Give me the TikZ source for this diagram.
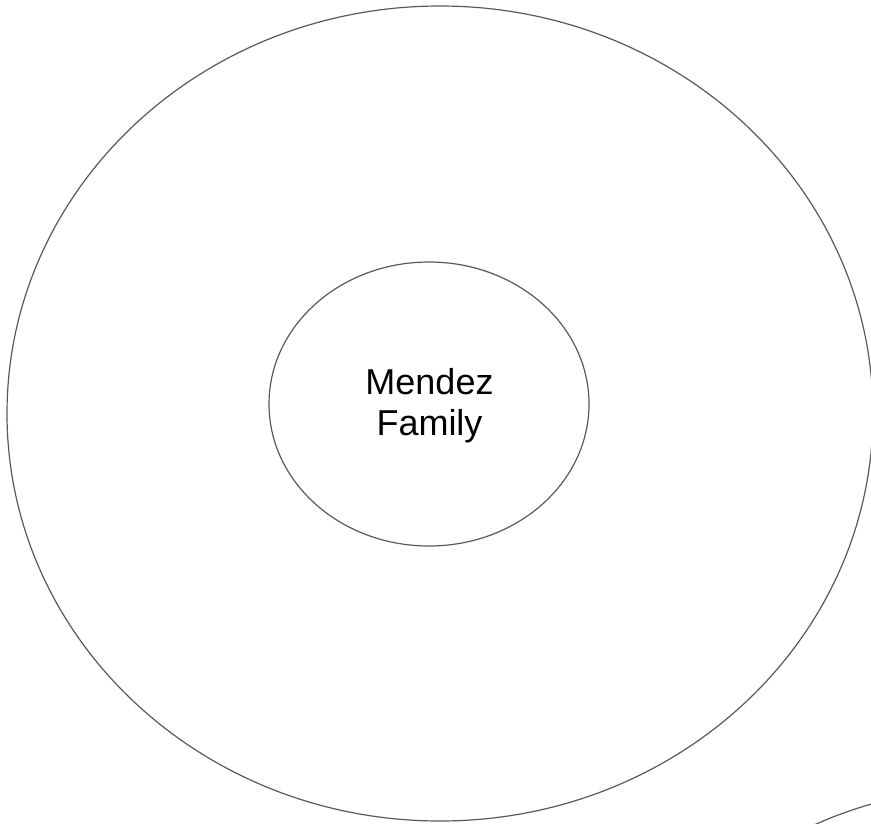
\documentclass[tikz,border=0pt]{standalone}
\usepackage{fontspec}
\setmainfont{Liberation Sans}
\usetikzlibrary{shapes.geometric}
\definecolor{linegray}{HTML}{595959}
\begin{document}
\begin{tikzpicture}[x=1pt,y=-1pt,
  ring/.style={draw=linegray,line width=1.2pt},
  lbl/.style={font=\fontsize{36}{41}\selectfont,align=center,text=black}]
\useasboundingbox (0,0) rectangle (871,823);
\clip (0,0) rectangle (871,823);
\draw[ring] (440,413.5) ellipse [x radius=433, y radius=407.5];
\draw[ring] (429,404) ellipse [x radius=160, y radius=142];
\node[lbl] (family) at (429.5,405.5) {Mendez\\Family};
\draw[ring] (814,825) .. controls (832,817) and (850,810) .. (875,803);
\end{tikzpicture}
\end{document}
